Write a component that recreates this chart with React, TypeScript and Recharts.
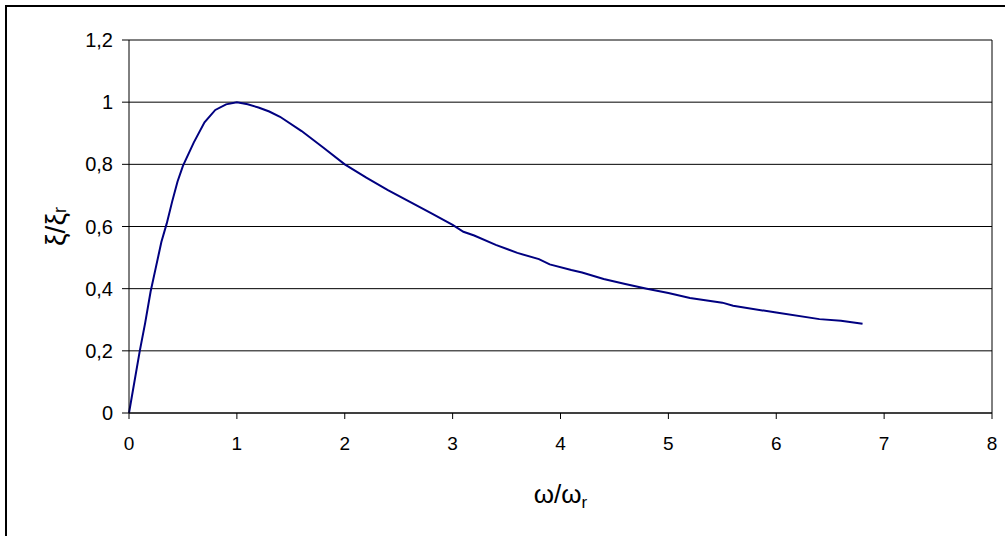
import { LineChart, Line, XAxis, YAxis, CartesianGrid, ReferenceLine, Customized } from 'recharts';

const omegaRatio = [
  0, 0.1, 0.15, 0.2, 0.25, 0.3, 0.35, 0.4, 0.45, 0.5, 0.6, 0.7, 0.8, 0.9, 1.0, 1.1, 1.2, 1.3, 1.4, 1.6,
  1.8, 2.0, 2.2, 2.4, 2.6, 2.8, 3.0, 3.1, 3.2, 3.4, 3.6, 3.8, 3.9, 4.1, 4.2, 4.4, 4.6, 4.8, 5.0, 5.2,
  5.5, 5.6, 6.0, 6.4, 6.6, 6.8,
];
const xiRatio = [
  0, 0.2, 0.29, 0.39, 0.47, 0.55, 0.61, 0.68, 0.745, 0.795, 0.87, 0.935, 0.975, 0.993, 1.0, 0.993, 0.983,
  0.97, 0.953, 0.907, 0.854, 0.8, 0.757, 0.717, 0.68, 0.643, 0.605, 0.583, 0.571, 0.541, 0.515, 0.495,
  0.478, 0.46, 0.452, 0.431, 0.415, 0.4, 0.386, 0.37, 0.355, 0.345, 0.323, 0.302, 0.297, 0.287,
];
const xTicks = [0, 1, 2, 3, 4, 5, 6, 7, 8];
const yTicks = [0, 0.2, 0.4, 0.6, 0.8, 1, 1.2];

const data = omegaRatio.map((x, i) => ({ x, y: xiRatio[i] }));

const FONT = '"Liberation Sans", Arial, sans-serif';

function XTick({ x, y, payload }: any) {
  return (
    <text x={x} y={y + 31} textAnchor="middle" fontFamily={FONT} fontSize={19} fill="#000">
      {payload.value}
    </text>
  );
}

function XTitle({ viewBox }: any) {
  const cx = viewBox.x + viewBox.width / 2;
  const y = viewBox.y + 90;
  return (
    <text x={cx} y={y} textAnchor="middle" fontFamily={FONT} fontSize={26} fill="#000">
      ω/ω<tspan fontSize={17} dy={5}>r</tspan>
    </text>
  );
}

function YTitle({ viewBox }: any) {
  const cx = viewBox.x + 26;
  const cy = viewBox.y + viewBox.height / 2;
  return (
    <text
      x={cx}
      y={cy}
      transform={`rotate(-90, ${cx}, ${cy})`}
      textAnchor="middle"
      dominantBaseline="central"
      fontFamily={FONT}
      fontSize={28}
      fill="#000"
    >
      ξ/ξ<tspan fontSize={18} dy={5}>r</tspan>
    </text>
  );
}

// outer chart frame (only left and top edges fall inside the picture)
function Frame() {
  return <path d="M6,540 L6,6 L1010,6" fill="none" stroke="#000" strokeWidth={2} />;
}

export default function App() {
  return (
    <div style={{ position: 'absolute', left: 0, top: 0, width: 1005, height: 536, background: '#fff' }}>
      <LineChart width={1005} height={536} data={data} margin={{ top: 40, right: 13, left: 29, bottom: 23 }}>
        <CartesianGrid vertical={false} stroke="#000" strokeWidth={1} />
        <XAxis
          type="number"
          dataKey="x"
          domain={[0, 8]}
          ticks={xTicks}
          height={100}
          tickSize={6}
          tickMargin={0}
          axisLine={{ stroke: '#000' }}
          tickLine={{ stroke: '#000' }}
          tick={<XTick />}
          label={<XTitle />}
        />
        <YAxis
          type="number"
          domain={[0, 1.2]}
          ticks={yTicks}
          width={100}
          tickSize={7}
          tickMargin={9}
          axisLine={{ stroke: '#000' }}
          tickLine={{ stroke: '#000' }}
          tick={{ fill: '#000', fontSize: 20, fontFamily: FONT }}
          tickFormatter={(v: number) => String(v).replace('.', ',')}
          label={<YTitle />}
        />
        <ReferenceLine x={8} stroke="#000" />
        <Line
          type="linear"
          dataKey="y"
          stroke="#000080"
          strokeWidth={2}
          dot={false}
          isAnimationActive={false}
        />
        <Customized component={Frame} />
      </LineChart>
    </div>
  );
}
